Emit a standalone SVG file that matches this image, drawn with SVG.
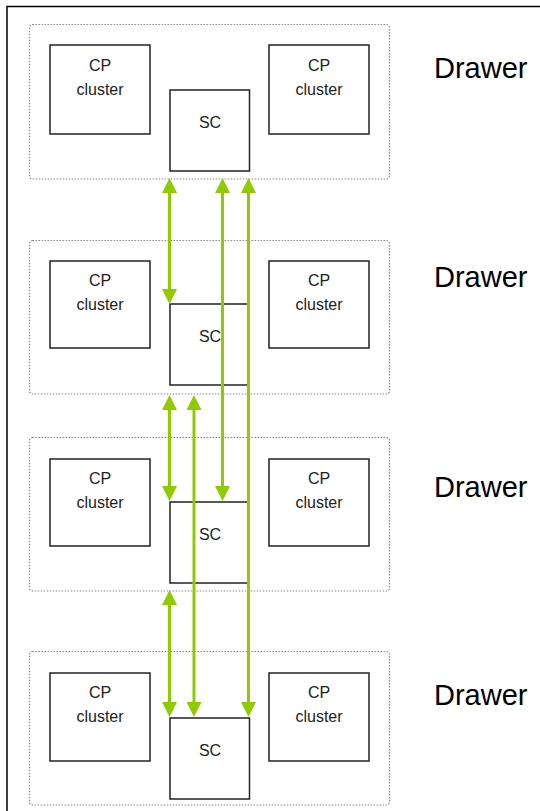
<svg xmlns="http://www.w3.org/2000/svg" width="540" height="811" viewBox="0 0 540 811">
  <style>
    .frame { fill: none; stroke: #000; stroke-width: 1.5; }
    .drawer { fill: none; stroke: #8a8a8a; stroke-width: 1.2; stroke-dasharray: 1.5 1.5; }
    .box { fill: #fff; stroke: #222; stroke-width: 1.5; }
    .t { font-family: "Liberation Sans", Arial, sans-serif; font-size: 16px; fill: #222; text-anchor: middle; }
    .lbl { font-family: "Liberation Sans", Arial, sans-serif; font-size: 29px; fill: #000; }
    .link { fill: none; stroke: #8fcb00; stroke-width: 3; marker-start: url(#ah); marker-end: url(#ah); }
  </style>
  <defs>
    <marker id="ah" markerUnits="userSpaceOnUse" markerWidth="15" markerHeight="15" viewBox="0 0 15 15" refX="0" refY="7.5" orient="auto-start-reverse">
      <path d="M0,0 L15,7.5 L0,15 z" fill="#8fcb00"/>
    </marker>
  </defs>
  <rect class="frame" x="7" y="6.5" width="600" height="900"/>

  <g id="drawer1">
    <rect class="drawer" x="29.5" y="24.5" width="360" height="154.5" rx="3"/>
    <text class="lbl" x="434" y="78">Drawer</text>
  </g>
  <g id="cp1a"><rect class="box" x="50" y="45" width="100" height="89"/><text class="t" x="100" y="71">CP</text><text class="t" x="100" y="95">cluster</text></g>
  <g id="cp1b"><rect class="box" x="269" y="45" width="100" height="89"/><text class="t" x="319" y="71">CP</text><text class="t" x="319" y="95">cluster</text></g>
  <g id="sc1"><rect class="box" x="170" y="90" width="79.5" height="81"/><text class="t" x="210" y="128">SC</text></g>

  <g id="drawer2">
    <rect class="drawer" x="29.5" y="240.5" width="360" height="153.5" rx="3"/>
    <text class="lbl" x="434" y="287">Drawer</text>
  </g>
  <g id="cp2a"><rect class="box" x="50" y="261" width="100" height="87"/><text class="t" x="100" y="286">CP</text><text class="t" x="100" y="310">cluster</text></g>
  <g id="cp2b"><rect class="box" x="269" y="261" width="100" height="87"/><text class="t" x="319" y="286">CP</text><text class="t" x="319" y="310">cluster</text></g>
  <g id="sc2"><rect class="box" x="170" y="304" width="79" height="81"/><text class="t" x="210" y="342">SC</text></g>

  <g id="drawer3">
    <rect class="drawer" x="29.5" y="437.5" width="360" height="153.5" rx="3"/>
    <text class="lbl" x="434" y="497">Drawer</text>
  </g>
  <g id="cp3a"><rect class="box" x="50" y="459" width="100" height="87"/><text class="t" x="100" y="484">CP</text><text class="t" x="100" y="508">cluster</text></g>
  <g id="cp3b"><rect class="box" x="269" y="459" width="100" height="87"/><text class="t" x="319" y="484">CP</text><text class="t" x="319" y="508">cluster</text></g>
  <g id="sc3"><rect class="box" x="170" y="502" width="79" height="81"/><text class="t" x="210" y="540">SC</text></g>

  <g id="drawer4">
    <rect class="drawer" x="29.5" y="651.5" width="360" height="153.5" rx="3"/>
    <text class="lbl" x="434" y="705">Drawer</text>
  </g>
  <g id="cp4a"><rect class="box" x="50" y="673" width="100" height="88"/><text class="t" x="100" y="698">CP</text><text class="t" x="100" y="722">cluster</text></g>
  <g id="cp4b"><rect class="box" x="269" y="673" width="100" height="88"/><text class="t" x="319" y="698">CP</text><text class="t" x="319" y="722">cluster</text></g>
  <g id="sc4"><rect class="box" x="170" y="718" width="79.5" height="81"/><text class="t" x="210" y="756">SC</text></g>

  <g id="connectors">
    <line class="link" x1="169.5" y1="193" x2="169.5" y2="289"/>
    <line class="link" x1="222.5" y1="193" x2="222.5" y2="486"/>
    <line class="link" x1="248.5" y1="193" x2="248.5" y2="702"/>
    <line class="link" x1="169.5" y1="410" x2="169.5" y2="486"/>
    <line class="link" x1="194" y1="410" x2="194" y2="702"/>
    <line class="link" x1="169.5" y1="605" x2="169.5" y2="702"/>
  </g>
</svg>
